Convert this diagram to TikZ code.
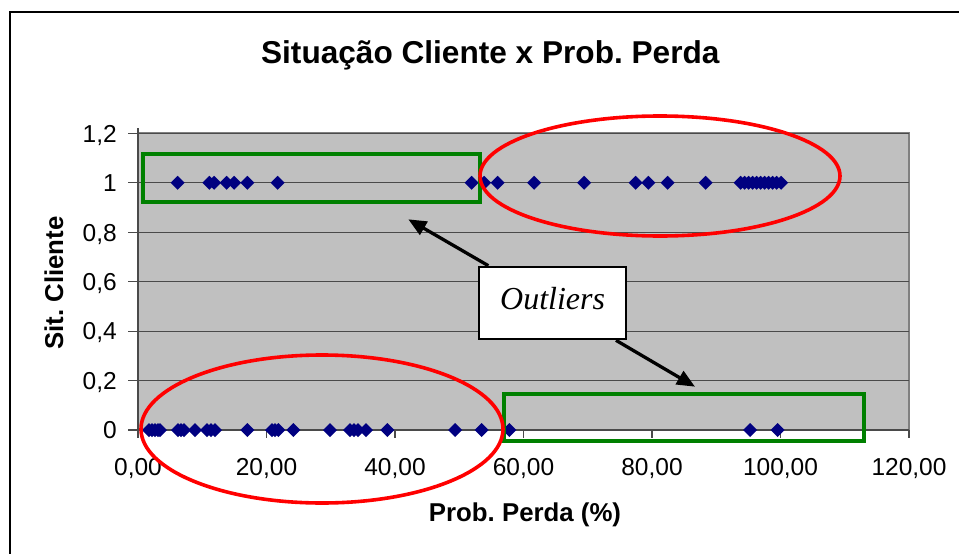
\documentclass[tikz,border=0pt]{standalone}
\usepackage{fontspec}
\setmainfont{Liberation Sans}
\newfontfamily\timesfont{Liberation Serif}
\usetikzlibrary{arrows.meta}
\definecolor{plotgray}{HTML}{C0C0C0}
\definecolor{bordergray}{HTML}{808080}
\definecolor{gridgray}{HTML}{4A4A4A}
\definecolor{navymark}{HTML}{000080}
\definecolor{boxgreen}{HTML}{008000}
\definecolor{ellred}{HTML}{FF0000}
\frenchspacing
\begin{document}
\begin{tikzpicture}[x=1pt,y=-1pt,
  ticklabel/.style={font=\fontsize{24.5}{24.5}\selectfont, inner sep=0},
  axtitle/.style={font=\fontsize{25.8}{25.8}\selectfont\bfseries, inner sep=0},
  gridline/.style={draw=gridgray, line width=1.2},
  greenbox/.style={draw=boxgreen, line width=3.8},
  redell/.style={draw=ellred, line width=3.6},
  callout/.style={draw=black, line width=2, fill=white, inner sep=0,
    minimum width=146.7, minimum height=72.6, text height=22, text depth=10,
    font=\timesfont\itshape\fontsize{32}{32}\selectfont},
  outarrow/.style={line width=3.3, -{Triangle[length=18,width=15]}}]
\useasboundingbox (0,0) rectangle (959,554);
\fill[white] (0,0) rectangle (959,554);
% outer frame
\draw[black, line width=2.2] (10,556) -- (10,12) -- (961,12);
% title
\node[font=\fontsize{31.6}{31.6}\selectfont\bfseries, inner sep=0, anchor=base] (title) at (490.3,63) {Situação Cliente x Prob. Perda};
% plot area
\fill[plotgray] (138,133.3) rectangle (909,430);
\draw[bordergray, line width=2] (138,133.3) -- (909,133.3) -- (909,430);
\foreach \k in {1,...,6} {
  \draw[gridline] (138,{430-49.45*\k}) -- (909,{430-49.45*\k});
}
% axes
\draw[gridgray, line width=1.4] (138,128) -- (138,430) -- (909,430);
\foreach \k in {0,...,6} {
  \draw[gridgray, line width=1.2] (128,{430-49.45*\k}) -- (138,{430-49.45*\k});
}
\foreach \k in {0,...,6} {
  \draw[gridgray, line width=1.2] ({138+128.5*\k},430) -- ({138+128.5*\k},438);
}
% tick labels
\foreach \k/\lab in {0/0,1/{0,2},2/{0,4},3/{0,6},4/{0,8},5/1,6/{1,2}} {
  \node[ticklabel, anchor=base east] (yl\k) at (117,{430-49.45*\k+8.8}) {\lab};
}
\foreach \k/\lab in {0/{0,00},1/{20,00},2/{40,00},3/{60,00},4/{80,00},5/{100,00},6/{120,00}} {
  \node[ticklabel, anchor=base] (xl\k) at ({138+128.5*\k},475) {\lab};
}
% axis titles
\node[axtitle, anchor=base] (xtitle) at (525,521.5) {Prob. Perda (\%)};
\node[axtitle, anchor=base, rotate=90] (ytitle) at (63,283) {Sit. Cliente};
% data points y=1
\foreach \px in {177.7,209.3,214,226.7,234,247.3,277.7,471.7,484,497.7,534,584,635.7,648.3,667.7,705.7,740.5,744.5,748.5,752.5,756.5,760.5,764.5,768.5,772.5,776.5,781} {
  \fill[navymark] (\px,182.75) +(-7,0) -- +(0,-7) -- +(7,0) -- +(0,7) -- cycle;
}
% data points y=0
\foreach \px in {149,152,155,158,160,178,181,184,195,207,211,215,247.3,272,275,278.3,293.3,330,350,354,358,366,387.3,455,481.7,509.3,750,777.7} {
  \fill[navymark] (\px,430) +(-7,0) -- +(0,-7) -- +(7,0) -- +(0,7) -- cycle;
}
% highlight boxes
\draw[greenbox] (142.7,154) rectangle (480,201.7);
\draw[greenbox] (504,394.3) rectangle (864.3,441);
% ellipses
\draw[redell] (660,176) ellipse [x radius=180, y radius=60];
\draw[redell] (322,429) ellipse [x radius=181, y radius=74];
% callout
\node[callout] (outl) at (552.6,303) {Outliers};
\coordinate (tipA) at (408.3,219.3);
\coordinate (tipB) at (695,386.7);
\draw[outarrow] (outl) -- (tipA);
\draw[outarrow] (outl) -- (tipB);
\end{tikzpicture}
\end{document}
